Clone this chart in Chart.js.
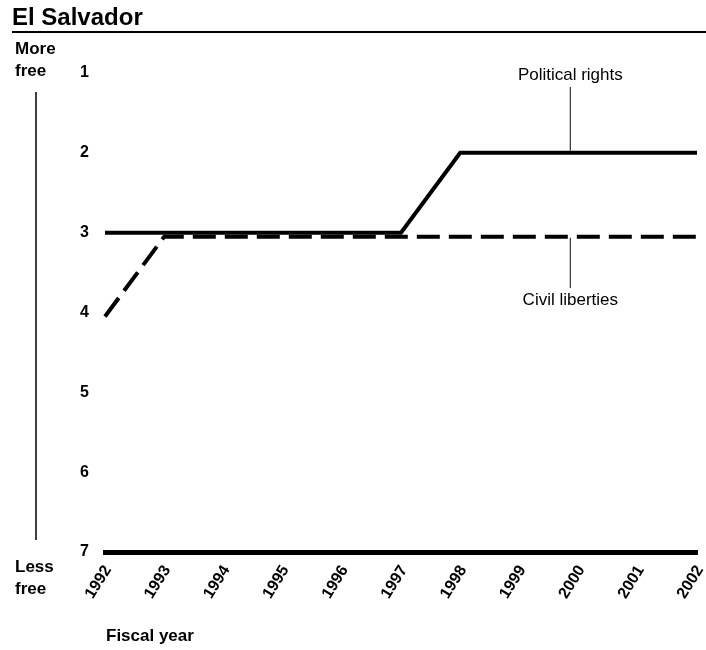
<!DOCTYPE html>
<html>
<head>
<meta charset="utf-8">
<script src="https://cdn.jsdelivr.net/npm/chart.js@4"></script>
<style>
  html, body { margin: 0; padding: 0; background: #fff; }
  #wrap { width: 706px; height: 650px; }
</style>
</head>
<body>
<div id="wrap"><canvas id="freedomChart" width="706" height="650"></canvas></div>
<script>
// El Salvador freedom ratings
const years = ['1992', '1993', '1994', '1995', '1996', '1997', '1998', '1999', '2000', '2001', '2002'];
const politicalRights = [3, 3, 3, 3, 3, 3, 2, 2, 2, 2, 2];
const civilLiberties = [4, 3, 3, 3, 3, 3, 3, 3, 3, 3, 3];
const ratingTicks = [1, 2, 3, 4, 5, 6, 7];

const FONT = '"Liberation Sans", Arial, Helvetica, sans-serif';

// draws title, side notes and line labels
const decorPlugin = {
    id: 'decor',
    beforeDatasetDraw(chart, args) {
        // civil liberties is drawn a little below so both lines stay visible
        if (args.index === 1) {
            chart.ctx.save();
            chart.ctx.translate(0, 4);
        }
    },
    afterDatasetDraw(chart, args) {
        if (args.index === 1) chart.ctx.restore();
    },
    afterDraw(chart) {
        const ctx = chart.ctx;
        const x = chart.scales.x;
        const y = chart.scales.y;
        ctx.save();
        ctx.fillStyle = '#000';
        ctx.textBaseline = 'middle';

        // title + rule
        ctx.font = 'bold 24px ' + FONT;
        ctx.textAlign = 'left';
        ctx.fillText('El Salvador', 12, 18);
        ctx.strokeStyle = '#000';
        ctx.lineWidth = 2;
        ctx.beginPath();
        ctx.moveTo(12, 32);
        ctx.lineTo(706, 32);
        ctx.stroke();

        // more free / less free
        ctx.font = 'bold 17px ' + FONT;
        ctx.fillText('More', 15, 49);
        ctx.fillText('free', 15, 71);
        ctx.fillText('Less', 15, 567);
        ctx.fillText('free', 15, 589);
        ctx.lineWidth = 1.5;
        ctx.beginPath();
        ctx.moveTo(36, 92);
        ctx.lineTo(36, 540);
        ctx.stroke();

        // axis title
        ctx.fillText('Fiscal year', 106, 636);

        // line labels with leaders
        const lx = x.getPixelForValue(7.86);
        ctx.font = '17px ' + FONT;
        ctx.textAlign = 'center';
        ctx.fillText('Political rights', lx, 75);
        ctx.fillText('Civil liberties', lx, 300);
        ctx.strokeStyle = '#333';
        ctx.lineWidth = 1.2;
        ctx.beginPath();
        ctx.moveTo(lx, 87);
        ctx.lineTo(lx, y.getPixelForValue(2) - 2);
        ctx.moveTo(lx, y.getPixelForValue(3) + 5);
        ctx.lineTo(lx, 288);
        ctx.stroke();
        ctx.restore();
    }
};

function initFreedomChart() {
    const ctx = document.getElementById('freedomChart').getContext('2d');
    new Chart(ctx, {
        type: 'line',
        data: {
            labels: years,
            datasets: [{
                label: 'Political rights',
                data: politicalRights,
                borderColor: '#000',
                borderWidth: 4,
                pointRadius: 0,
                tension: 0
            }, {
                label: 'Civil liberties',
                data: civilLiberties,
                borderColor: '#000',
                borderWidth: 4,
                borderDash: [23, 9],
                pointRadius: 0,
                tension: 0
            }]
        },
        options: {
            responsive: false,
            animation: false,
            layout: {
                padding: { top: 73, right: 9, left: 0, bottom: 0 }
            },
            plugins: {
                legend: { display: false },
                tooltip: { enabled: false }
            },
            scales: {
                x: {
                    grid: { display: false, drawTicks: false },
                    border: { display: true, color: '#000', width: 5 },
                    afterFit(scale) {
                        scale.height = 98;
                        scale.paddingLeft = 0;
                        scale.paddingRight = 0;
                    },
                    ticks: {
                        color: '#000',
                        font: { family: FONT, size: 16, weight: 'bold' },
                        minRotation: 58,
                        maxRotation: 58,
                        autoSkip: false,
                        padding: 10,
                        labelOffset: 3
                    }
                },
                y: {
                    reverse: true,
                    min: 1,
                    max: 7,
                    grid: { display: false, drawTicks: false },
                    border: { display: false },
                    afterFit(scale) { scale.width = 105; },
                    afterBuildTicks(scale) {
                        scale.ticks = ratingTicks.map(v => ({ value: v }));
                    },
                    ticks: {
                        color: '#000',
                        font: { family: FONT, size: 16, weight: 'bold' },
                        padding: 16
                    }
                }
            }
        },
        plugins: [decorPlugin]
    });
}

document.addEventListener('DOMContentLoaded', () => {
    initFreedomChart();
});
</script>
</body>
</html>
